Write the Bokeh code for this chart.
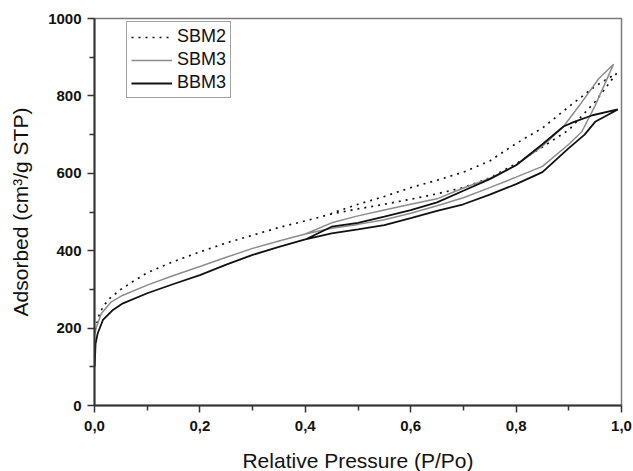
from bokeh.plotting import figure
from bokeh.embed import file_html
from bokeh.resources import INLINE
from bokeh.models import FixedTicker, CustomJSTickFormatter, Range1d, Legend, LegendItem

# ---- data ----
sbm2_ads_p = [0.001, 0.005, 0.01, 0.02, 0.03, 0.05, 0.07, 0.1, 0.15, 0.2, 0.25, 0.3, 0.35, 0.4,
              0.45, 0.5, 0.55, 0.6, 0.65, 0.7, 0.75, 0.8, 0.85, 0.9, 0.95, 0.99]
sbm2_ads_v = [195, 215, 240, 262, 278, 300, 318, 343, 372, 397, 420, 440, 460, 477,
              495, 508, 520, 533, 547, 563, 588, 625, 668, 712, 785, 857]
sbm2_des_p = [0.99, 0.95, 0.9, 0.85, 0.8, 0.75, 0.7, 0.65, 0.6, 0.55, 0.5, 0.45]
sbm2_des_v = [858, 825, 772, 717, 677, 632, 603, 582, 563, 540, 520, 497]

sbm3_ads_p = [0.001, 0.003, 0.013, 0.032, 0.054, 0.1, 0.15, 0.2, 0.25, 0.3, 0.35, 0.4,
              0.45, 0.5, 0.55, 0.6, 0.65, 0.7, 0.75, 0.8, 0.85, 0.9, 0.925, 0.95, 0.985]
sbm3_ads_v = [185, 200, 238, 268, 285, 311, 336, 359, 383, 406, 425, 443,
              458, 468, 480, 497, 516, 537, 563, 590, 618, 675, 708, 775, 882]
sbm3_des_p = [0.985, 0.957, 0.92, 0.89, 0.85, 0.8, 0.75, 0.7, 0.65, 0.6, 0.55, 0.5, 0.45, 0.4]
sbm3_des_v = [882, 845, 775, 721, 670, 621, 587, 562, 534, 520, 505, 490, 472, 443]

bbm3_ads_p = [0.0003, 0.002, 0.006, 0.016, 0.035, 0.054, 0.1, 0.15, 0.2, 0.25, 0.3, 0.35, 0.4,
              0.45, 0.5, 0.55, 0.6, 0.65, 0.7, 0.75, 0.8, 0.85, 0.9, 0.93, 0.95, 0.993]
bbm3_ads_v = [100, 160, 186, 221, 247, 264, 290, 314, 337, 364, 389, 410, 429,
              445, 455, 466, 484, 503, 520, 545, 572, 603, 665, 700, 733, 765]
bbm3_des_p = [0.993, 0.945, 0.91, 0.89, 0.85, 0.8, 0.75, 0.7, 0.65, 0.6, 0.55, 0.5, 0.45, 0.4]
bbm3_des_v = [765, 750, 733, 721, 675, 621, 585, 555, 525, 505, 488, 472, 462, 429]

series_names = ["SBM2", "SBM3", "BBM3"]
x_ticks = [0.0, 0.2, 0.4, 0.6, 0.8, 1.0]
y_ticks = [0, 200, 400, 600, 800, 1000]

FONT = "Liberation Sans"

p = figure(width=632, height=470, output_backend="svg", toolbar_location=None,
           x_range=Range1d(0, 1), y_range=Range1d(0, 1000),
           frame_width=527, frame_height=387)
p.min_border_left = 94
p.min_border_right = 11
p.min_border_top = 18
p.min_border_bottom = 65
p.background_fill_color = "white"
p.border_fill_color = "white"
p.outline_line_color = "#7a7a7a"
p.outline_line_width = 1.5
p.xgrid.visible = False
p.ygrid.visible = False

r1 = p.line(sbm2_ads_p + sbm2_des_p, sbm2_ads_v + sbm2_des_v, line_color="#111111",
            line_width=1.7, line_dash="2 5")
r2 = p.line(sbm3_ads_p + sbm3_des_p, sbm3_ads_v + sbm3_des_v, line_color="#8c8c8c",
            line_width=1.5)
r3 = p.line(bbm3_ads_p + bbm3_des_p, bbm3_ads_v + bbm3_des_v, line_color="#111111",
            line_width=1.8)

legend = Legend(items=[LegendItem(label=series_names[0], renderers=[r1]),
                       LegendItem(label=series_names[1], renderers=[r2]),
                       LegendItem(label=series_names[2], renderers=[r3])],
                location=(32, 307))
legend.label_text_font = FONT
legend.label_text_font_size = "18px"
legend.label_text_color = "#111111"
legend.glyph_width = 41
legend.glyph_height = 20
legend.label_height = 20
legend.label_standoff = 5
legend.spacing = 2
legend.padding = 4
legend.margin = 0
legend.border_line_color = "#444444"
legend.border_line_width = 1
legend.background_fill_alpha = 1
p.add_layout(legend)

fmt = CustomJSTickFormatter(code="return tick.toFixed(1).replace('.', ',');")
p.xaxis.ticker = FixedTicker(ticks=x_ticks, minor_ticks=[0.1, 0.3, 0.5, 0.7, 0.9])
p.xaxis.formatter = fmt
p.yaxis.ticker = FixedTicker(ticks=y_ticks, minor_ticks=[100, 300, 500, 700, 900])

for ax in (p.xaxis, p.yaxis):
    ax.axis_line_color = "#333333"
    ax.axis_line_width = 2
    ax.major_tick_line_color = "#333333"
    ax.minor_tick_line_color = "#333333"
    ax.major_tick_line_width = 1.5
    ax.minor_tick_line_width = 1.5
    ax.major_tick_in = 0
    ax.minor_tick_in = 0
    ax.major_tick_out = 7
    ax.minor_tick_out = 5
    ax.major_label_text_font = FONT
    ax.major_label_text_font_style = "bold"
    ax.major_label_text_font_size = "15px"
    ax.major_label_text_color = "#111111"
    ax.axis_label_text_font = FONT
    ax.axis_label_text_font_style = "normal"
    ax.axis_label_text_font_size = "21px"
    ax.axis_label_text_color = "#111111"

p.xaxis.axis_label = "Relative Pressure (P/Po)"
p.yaxis.axis_label = "Adsorbed (cm³/g STP)"
p.xaxis.major_label_standoff = 8
p.yaxis.major_label_standoff = 6
p.xaxis.axis_label_standoff = 15
p.yaxis.axis_label_standoff = 13

open("out.html", "w").write(file_html(p, INLINE))
